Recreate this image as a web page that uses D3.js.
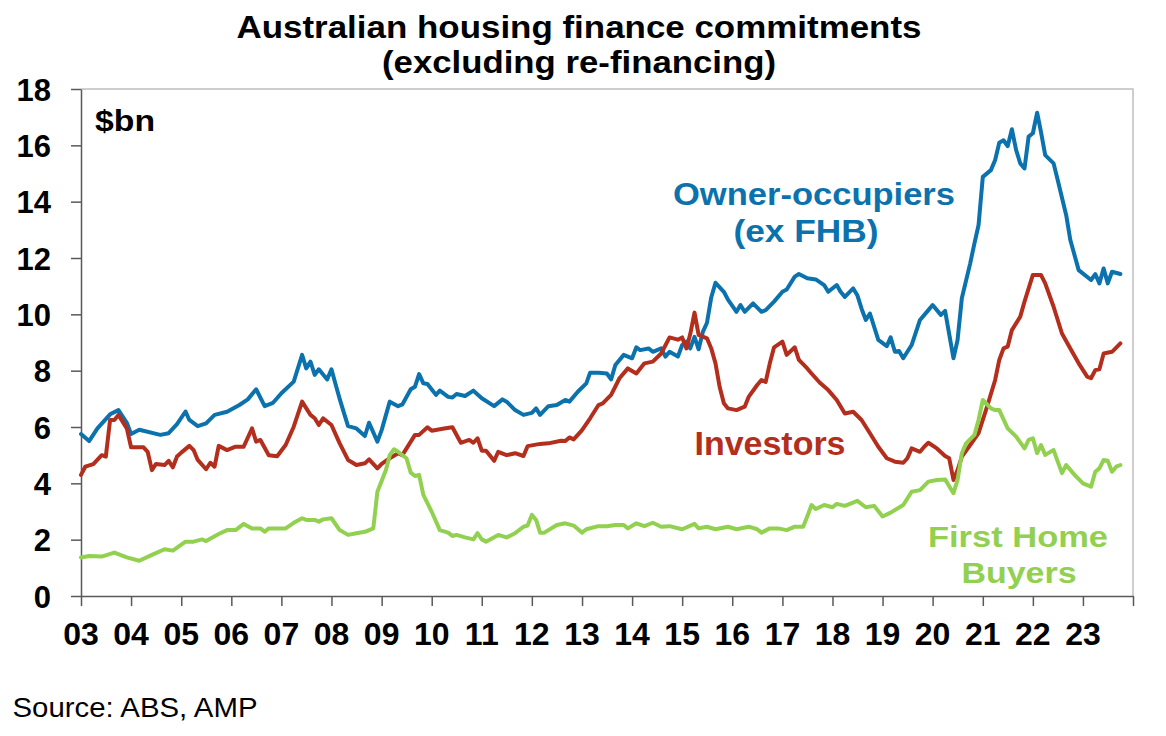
<!DOCTYPE html>
<html>
<head>
<meta charset="utf-8">
<title>Australian housing finance commitments</title>
<script src="https://cdn.jsdelivr.net/npm/d3@7"></script>
<style>
  body { margin: 0; background: #ffffff; }
  svg { display: block; font-family: "Liberation Sans", Arial, sans-serif; }
  .axis path, .axis line { stroke: #595959; stroke-width: 1.5; }
  .axis text { font-weight: bold; fill: #000000; }
</style>
</head>
<body>
<script>
//monthly values, $bn
var ownerOccupiers = [
  ["2003-01",5.75],["2003-03",5.5],["2003-05",5.95],["2003-08",6.45],["2003-10",6.6],["2003-12",6.15],
  ["2004-01",5.75],["2004-03",5.9],["2004-08",5.72],["2004-10",5.78],["2004-12",6.1],
  ["2005-02",6.55],["2005-03",6.25],["2005-05",6.03],["2005-07",6.13],["2005-09",6.43],["2005-12",6.54],
  ["2006-03",6.78],["2006-05",6.98],["2006-07",7.34],["2006-09",6.74],["2006-11",6.86],
  ["2007-01",7.2],["2007-04",7.61],["2007-06",8.56],["2007-07",8.08],["2007-08",8.32],["2007-09",7.85],["2007-10",8.05],["2007-12",7.69],
  ["2008-01",8.05],["2008-02",7.5],["2008-03",7.0],["2008-04",6.5],["2008-05",6.03],["2008-07",5.95],["2008-09",5.68],["2008-10",6.15],["2008-12",5.48],
  ["2009-01",5.89],["2009-03",6.9],["2009-05",6.74],["2009-06",6.8],["2009-08",7.34],["2009-09",7.43],["2009-10",7.88],["2009-11",7.55],["2009-12",7.53],
  ["2010-02",7.14],["2010-03",7.29],["2010-05",7.07],["2010-06",7.05],["2010-07",7.17],["2010-09",7.1],["2010-11",7.29],
  ["2011-01",7.02],["2011-04",6.74],["2011-06",6.98],["2011-07",6.9],["2011-09",6.6],["2011-11",6.43],
  ["2012-01",6.5],["2012-02",6.66],["2012-03",6.43],["2012-05",6.74],["2012-07",6.78],["2012-09",6.96],["2012-10",6.9],["2012-12",7.25],
  ["2013-02",7.55],["2013-03",7.93],["2013-05",7.93],["2013-07",7.9],["2013-08",7.69],["2013-09",8.2],["2013-11",8.56],
  ["2014-01",8.44],["2014-02",8.83],["2014-03",8.73],["2014-05",8.79],["2014-06",8.67],["2014-08",8.79],["2014-09",8.5],["2014-10",8.67],["2014-12",8.5],
  ["2015-01",8.91],["2015-02",9.03],["2015-03",8.79],["2015-04",9.2],["2015-05",8.76],["2015-06",9.38],["2015-07",9.7],["2015-08",10.6],["2015-09",11.12],["2015-11",10.8],["2015-12",10.52],
  ["2016-02",10.09],["2016-03",10.33],["2016-04",10.09],["2016-06",10.39],["2016-08",10.09],["2016-09",10.15],["2016-11",10.45],
  ["2017-01",10.8],["2017-02",10.88],["2017-04",11.34],["2017-05",11.43],["2017-07",11.28],["2017-09",11.24],["2017-11",11.04],["2017-12",10.8],
  ["2018-02",11.04],["2018-03",10.8],["2018-04",10.62],["2018-06",10.92],["2018-07",10.68],["2018-08",10.2],["2018-09",9.8],["2018-10",10.03],["2018-12",9.09],
  ["2019-02",8.87],["2019-03",9.18],["2019-04",8.67],["2019-05",8.7],["2019-06",8.44],["2019-08",8.91],["2019-10",9.8],["2019-12",10.15],
  ["2020-01",10.33],["2020-03",9.98],["2020-04",10.12],["2020-05",9.3],["2020-06",8.44],["2020-07",9.09],["2020-08",10.57],["2020-10",11.81],["2020-11",12.52],["2020-12",13.17],
  ["2021-01",14.88],["2021-03",15.12],["2021-04",15.48],["2021-05",16.09],["2021-06",16.18],["2021-07",15.97],["2021-08",16.57],["2021-09",15.83],["2021-10",15.36],["2021-11",15.18],["2021-12",16.31],
  ["2022-01",16.43],["2022-02",17.16],["2022-03",16.48],["2022-04",15.65],["2022-06",15.36],["2022-07",14.77],["2022-09",13.52],["2022-10",12.64],["2022-12",11.57],
  ["2023-03",11.22],["2023-04",11.43],["2023-05",11.1],["2023-06",11.63],["2023-07",11.1],["2023-08",11.51],["2023-10",11.43]
];

var investors = [
  ["2003-01",4.3],["2003-02",4.59],["2003-04",4.68],["2003-06",5.0],["2003-07",4.95],["2003-08",6.25],["2003-09",6.25],["2003-10",6.43],["2003-12",5.95],
  ["2004-01",5.28],["2004-04",5.28],["2004-05",5.12],["2004-06",4.47],["2004-07",4.69],["2004-09",4.65],["2004-10",4.8],["2004-11",4.57],["2004-12",4.95],
  ["2005-01",5.09],["2005-03",5.33],["2005-04",5.18],["2005-05",4.83],["2005-07",4.5],["2005-08",4.73],["2005-09",4.59],["2005-10",5.33],["2005-12",5.18],
  ["2006-02",5.3],["2006-04",5.3],["2006-06",5.95],["2006-07",5.48],["2006-08",5.54],["2006-10",5.0],["2006-12",4.96],
  ["2007-02",5.36],["2007-04",6.01],["2007-06",6.9],["2007-08",6.43],["2007-09",6.31],["2007-10",6.07],["2007-11",6.31],
  ["2008-01",6.07],["2008-03",5.42],["2008-05",4.83],["2008-07",4.65],["2008-09",4.71],["2008-10",4.85],["2008-12",4.53],
  ["2009-01",4.69],["2009-03",4.89],["2009-05",5.07],["2009-06",5.0],["2009-09",5.72],["2009-10",5.72],["2009-12",5.99],
  ["2010-01",5.87],["2010-04",5.95],["2010-06",5.99],["2010-08",5.44],["2010-10",5.54],["2010-11",5.44],["2010-12",5.6],
  ["2011-01",5.16],["2011-02",5.16],["2011-04",4.8],["2011-05",5.12],["2011-07",5.0],["2011-09",5.07],["2011-11",4.97],["2011-12",5.32],
  ["2012-03",5.4],["2012-05",5.42],["2012-08",5.51],["2012-09",5.5],["2012-10",5.63],["2012-11",5.56],
  ["2013-01",5.89],["2013-03",6.31],["2013-05",6.78],["2013-06",6.84],["2013-08",7.14],["2013-10",7.73],["2013-12",8.08],
  ["2014-02",7.9],["2014-04",8.26],["2014-06",8.32],["2014-08",8.61],["2014-10",9.18],["2014-12",9.1],
  ["2015-01",9.18],["2015-02",8.79],["2015-03",9.3],["2015-04",10.06],["2015-05",9.27],["2015-07",9.15],["2015-08",8.79],["2015-09",8.26],["2015-10",7.43],["2015-11",6.84],["2015-12",6.66],
  ["2016-02",6.6],["2016-04",6.72],["2016-05",7.08],["2016-07",7.49],["2016-08",7.67],["2016-09",7.6],["2016-10",8.26],["2016-11",8.83],
  ["2017-01",9.03],["2017-02",8.56],["2017-04",8.83],["2017-05",8.38],["2017-07",8.08],["2017-08",7.9],["2017-10",7.57],["2017-12",7.31],
  ["2018-02",6.96],["2018-04",6.48],["2018-06",6.54],["2018-08",6.25],["2018-10",5.78],["2018-12",5.3],
  ["2019-02",4.89],["2019-04",4.77],["2019-06",4.73],["2019-07",4.89],["2019-08",5.24],["2019-10",5.12],["2019-11",5.3],["2019-12",5.44],
  ["2020-02",5.24],["2020-04",4.97],["2020-05",4.89],["2020-06",4.12],["2020-07",4.47],["2020-08",4.95],["2020-10",5.36],["2020-12",5.78],
  ["2021-02",6.72],["2021-04",7.67],["2021-05",8.38],["2021-06",8.79],["2021-07",8.85],["2021-08",9.44],["2021-10",9.92],["2021-11",10.45],
  ["2022-01",11.4],["2022-03",11.4],["2022-04",11.1],["2022-06",10.27],["2022-08",9.32],["2022-10",8.79],["2022-12",8.26],
  ["2023-02",7.79],["2023-03",7.73],["2023-04",8.02],["2023-05",8.05],["2023-06",8.61],["2023-08",8.67],["2023-10",8.97]
];

var firstHomeBuyers = [
  ["2003-01",1.37],["2003-03",1.42],["2003-06",1.4],["2003-09",1.54],["2003-12",1.37],
  ["2004-03",1.25],["2004-06",1.46],["2004-09",1.66],["2004-11",1.61],
  ["2005-02",1.93],["2005-04",1.93],["2005-06",2.01],["2005-07",1.95],["2005-10",2.2],["2005-12",2.34],
  ["2006-02",2.34],["2006-04",2.56],["2006-06",2.4],["2006-08",2.4],["2006-09",2.28],["2006-10",2.4],
  ["2007-02",2.4],["2007-04",2.6],["2007-06",2.76],["2007-07",2.7],["2007-09",2.7],["2007-10",2.64],["2007-11",2.72],
  ["2008-01",2.76],["2008-03",2.34],["2008-05",2.17],["2008-07",2.23],["2008-09",2.28],["2008-11",2.4],["2008-12",3.7],
  ["2009-02",4.47],["2009-03",5.0],["2009-04",5.21],["2009-05",5.12],["2009-07",4.89],["2009-08",4.38],["2009-09",4.26],["2009-10",4.3],["2009-11",3.59],
  ["2010-01",2.99],["2010-03",2.34],["2010-05",2.25],["2010-06",2.13],["2010-07",2.17],["2010-09",2.08],["2010-11",2.01],["2010-12",2.23],
  ["2011-01",2.01],["2011-02",1.93],["2011-05",2.17],["2011-07",2.08],["2011-09",2.23],["2011-11",2.46],["2011-12",2.5],
  ["2012-01",2.88],["2012-02",2.7],["2012-03",2.25],["2012-04",2.25],["2012-07",2.52],["2012-09",2.58],["2012-11",2.5],
  ["2013-01",2.25],["2013-02",2.37],["2013-05",2.48],["2013-07",2.48],["2013-09",2.52],["2013-11",2.52],["2013-12",2.4],
  ["2014-02",2.58],["2014-04",2.48],["2014-06",2.6],["2014-08",2.46],["2014-10",2.48],
  ["2015-01",2.37],["2015-04",2.56],["2015-05",2.4],["2015-07",2.46],["2015-09",2.37],["2015-12",2.46],
  ["2016-02",2.37],["2016-05",2.46],["2016-07",2.37],["2016-08",2.25],["2016-10",2.4],["2016-12",2.4],
  ["2017-02",2.34],["2017-04",2.46],["2017-06",2.46],["2017-07",2.82],["2017-08",3.23],["2017-09",3.09],["2017-11",3.23],
  ["2018-01",3.15],["2018-02",3.27],["2018-04",3.2],["2018-07",3.38],["2018-09",3.15],["2018-11",3.2],
  ["2019-01",2.82],["2019-03",2.96],["2019-06",3.23],["2019-08",3.7],["2019-10",3.76],["2019-12",4.06],
  ["2020-02",4.12],["2020-04",4.14],["2020-06",3.65],["2020-07",4.12],["2020-08",5.07],["2020-09",5.42],["2020-11",5.72],["2020-12",6.25],
  ["2021-01",6.96],["2021-03",6.66],["2021-04",6.6],["2021-05",6.6],["2021-07",5.95],["2021-09",5.66],["2021-11",5.24],["2021-12",5.54],
  ["2022-01",5.6],["2022-02",5.07],["2022-03",5.36],["2022-04",5.01],["2022-06",5.18],["2022-08",4.36],["2022-09",4.65],["2022-11",4.3],
  ["2023-01",4.0],["2023-03",3.88],["2023-04",4.41],["2023-05",4.53],["2023-06",4.83],["2023-07",4.8],["2023-08",4.41],["2023-09",4.59],["2023-10",4.65]
];

//axis values
var yTicks = [0, 2, 4, 6, 8, 10, 12, 14, 16, 18];
var yearTicks = d3.range(2003, 2025); //tick marks at the start of each year
var yearLabels = ["03","04","05","06","07","08","09","10","11","12","13","14","15","16","17","18","19","20","21","22","23"];

window.onload = function(){
  var w = 1166, h = 736;
  var left = 81, right = 1133, top = 89, bottom = 596;

  var blue = "#0B72AD", red = "#B42E1D", green = "#92D050";

  var parseMonth = d3.timeParse("%Y-%m");

  var svg = d3.select("body")
    .append("svg")
    .attr("width", w)
    .attr("height", h);

  //scales
  var x = d3.scaleTime()
    .domain([new Date(2003, 0, 1), new Date(2024, 0, 1)])
    .range([left, right]);
  var y = d3.scaleLinear()
    .domain([0, 18])
    .range([bottom, top]);

  //light grey frame on top and right of the plot
  svg.append("path")
    .attr("d", "M" + left + "," + top + "H" + right + "V" + bottom)
    .style("fill", "none")
    .style("stroke", "#BFBFBF")
    .style("stroke-width", 1.5);

  //y axis
  svg.append("g")
    .attr("class", "axis")
    .attr("transform", "translate(" + left + ",0)")
    .call(d3.axisLeft(y).tickValues(yTicks).tickSize(10).tickSizeOuter(0).tickPadding(20))
    .selectAll("text")
    .style("font-size", "31px")
    .attr("dy", "0.36em");

  //x axis, ticks only, labels added below each year tick
  var xAxis = svg.append("g")
    .attr("class", "axis")
    .attr("transform", "translate(0," + bottom + ")")
    .call(d3.axisBottom(x)
      .tickValues(yearTicks.map(function(yr){ return new Date(yr, 0, 1); }))
      .tickSize(10)
      .tickSizeOuter(0)
      .tickFormat(""));

  xAxis.selectAll(".yearLabel")
    .data(yearLabels)
    .enter()
    .append("text")
    .attr("class", "yearLabel")
    .attr("text-anchor", "middle")
    .attr("x", function(d, i){
      return x(new Date(yearTicks[i], 0, 1));
    })
    .attr("y", 49)
    .style("font-size", "32px")
    .text(function(d){ return d; });

  //series lines
  var line = d3.line()
    .x(function(d){ return x(parseMonth(d[0])); })
    .y(function(d){ return y(d[1]); });

  var series = [
    { name: "owner", values: ownerOccupiers, color: blue },
    { name: "investors", values: investors, color: red },
    { name: "fhb", values: firstHomeBuyers, color: green }
  ];

  svg.selectAll(".series")
    .data(series)
    .enter()
    .append("path")
    .attr("class", "series")
    .attr("d", function(d){ return line(d.values); })
    .style("fill", "none")
    .style("stroke", function(d){ return d.color; })
    .style("stroke-width", 4)
    .style("stroke-linejoin", "round")
    .style("stroke-linecap", "round");

  //text labels
  var labels = [
    { text: "Australian housing finance commitments", x: 579, y: 38, size: 31, len: 685, color: "#000", weight: "bold" },
    { text: "(excluding re-financing)", x: 579, y: 73, size: 31, len: 394, color: "#000", weight: "bold" },
    { text: "$bn", x: 125, y: 131, size: 29, len: 60, color: "#000", weight: "bold" },
    { text: "Owner-occupiers", x: 814, y: 205, size: 32, len: 282, color: blue, weight: "bold" },
    { text: "(ex FHB)", x: 806, y: 242, size: 32, len: 145, color: blue, weight: "bold" },
    { text: "Investors", x: 770, y: 455, size: 33, len: 151, color: red, weight: "bold" },
    { text: "First Home", x: 1018, y: 547, size: 30, len: 180, color: green, weight: "bold" },
    { text: "Buyers", x: 1019, y: 583, size: 30, len: 115, color: green, weight: "bold" },
    { text: "Source: ABS, AMP", x: 135, y: 717, size: 27, len: 245, color: "#000", weight: "normal" }
  ];

  svg.selectAll(".label")
    .data(labels)
    .enter()
    .append("text")
    .attr("class", "label")
    .attr("text-anchor", "middle")
    .attr("x", function(d){ return d.x; })
    .attr("y", function(d){ return d.y; })
    .attr("textLength", function(d){ return d.len; })
    .attr("lengthAdjust", "spacingAndGlyphs")
    .style("font-size", function(d){ return d.size + "px"; })
    .style("font-weight", function(d){ return d.weight; })
    .style("fill", function(d){ return d.color; })
    .text(function(d){ return d.text; });
};
</script>
</body>
</html>
